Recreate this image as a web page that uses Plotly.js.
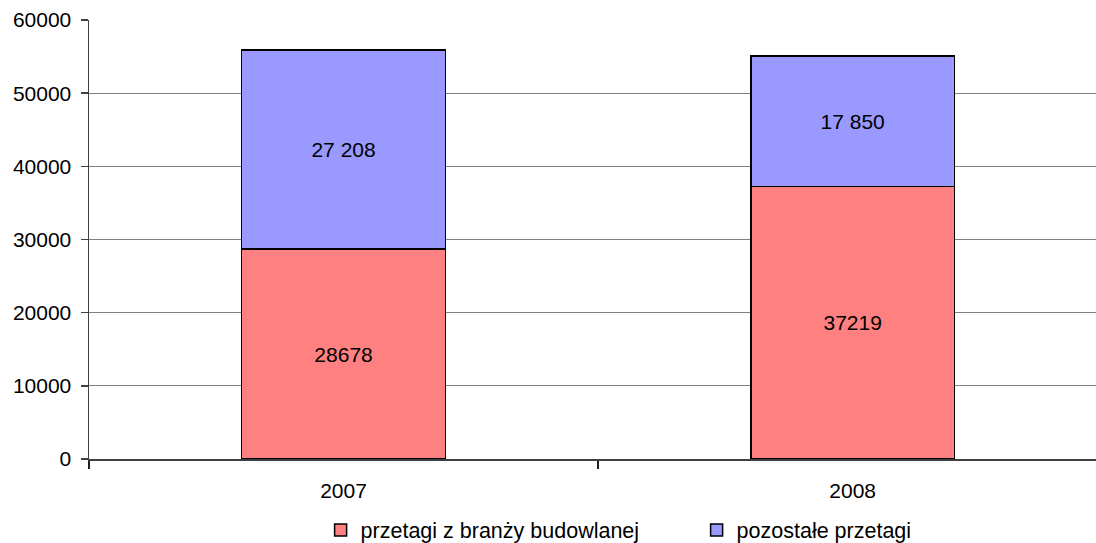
<!DOCTYPE html>
<html>
<head>
<meta charset="utf-8">
<script src="https://cdn.plot.ly/plotly-3.0.1.min.js"></script>
<style>html,body{margin:0;padding:0;background:#fff;}#chart{width:1096px;height:543px;}</style>
</head>
<body>
<div id="chart"></div>
<script>
const categories = ['2007', '2008'];
const budowlane = [28678, 37219];
const pozostale = [27208, 17850];
const budowlaneLabels = ['28678', '37219'];
const pozostaleLabels = ['27 208', '17 850'];
const seriesNames = ['przetagi z branży budowlanej', 'pozostałe przetagi'];
const yTicks = [0, 10000, 20000, 30000, 40000, 50000, 60000];

const font = {family: 'Liberation Sans, Arial, sans-serif', size: 21, color: '#000'};

const common = {
  type: 'bar',
  x: categories,
  width: 0.4,
  textposition: 'inside',
  insidetextanchor: 'middle',
  textangle: 0,
  textfont: font,
  hoverinfo: 'skip'
};

const traces = [
  Object.assign({}, common, {
    name: seriesNames[0], y: budowlane, text: budowlaneLabels,
    marker: {color: '#FF8080', line: {color: '#000', width: 1.5}}
  }),
  Object.assign({}, common, {
    name: seriesNames[1], y: pozostale, text: pozostaleLabels,
    marker: {color: '#9999FF', line: {color: '#000', width: 1.5}}
  })
];

const layout = {
  width: 1096, height: 543,
  margin: {l: 89, r: 0, t: 20, b: 84, autoexpand: false},
  barmode: 'stack',
  paper_bgcolor: '#fff', plot_bgcolor: '#fff',
  font: font,
  showlegend: true,
  legend: {orientation: 'h', x: 0.230, xanchor: 'left', y: -0.162, yanchor: 'middle',
           font: {family: font.family, size: 21.5, color: '#000'},
           itemwidth: 30, traceorder: 'normal', entrywidth: 331, entrywidthmode: 'pixels'},
  xaxis: {
    type: 'category', range: [-0.5, 1.478],
    showline: true, linecolor: '#404040', linewidth: 1.5,
    ticks: 'outside', tickson: 'boundaries', ticklen: 8, tickcolor: '#202020', tickwidth: 1.5,
    showgrid: false, tickfont: font, ticklabelstandoff: 12
  },
  yaxis: {
    range: [0, 60000], tickvals: yTicks, ticktext: yTicks.map(String),
    showline: true, linecolor: '#404040', linewidth: 1.5,
    ticks: 'outside', ticklen: 7, tickcolor: '#404040', tickwidth: 1.5,
    showgrid: true, gridcolor: '#808080', gridwidth: 1,
    zeroline: false, tickfont: font, ticklabelstandoff: 5
  }
};

Plotly.newPlot('chart', traces, layout, {displayModeBar: false, staticPlot: true});
</script>
</body>
</html>
